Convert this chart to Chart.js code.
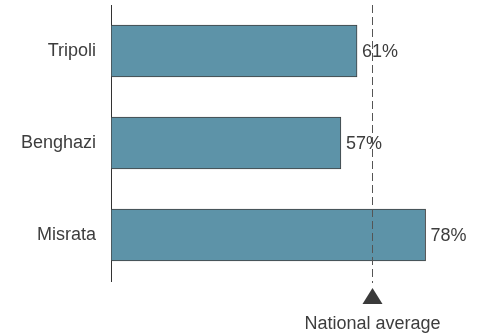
<!DOCTYPE html>
<html>
<head>
<meta charset="utf-8">
<script src="https://cdn.jsdelivr.net/npm/chart.js@4"></script>
<style>
  html, body { margin: 0; padding: 0; background: #fff; }
  #wrap { width: 483px; height: 335px; }
</style>
</head>
<body>
<div id="wrap"><canvas id="chart"></canvas></div>
<script>
const cities = ['Tripoli', 'Benghazi', 'Misrata'];
const shares = [61, 57, 78];
const nationalAverage = 64.6;
const averageLabel = 'National average';

const FONT = "'Liberation Sans', Arial, sans-serif";
const textColor = '#3d3d3d';

// values at the end of each bar
const valueLabels = {
  id: 'valueLabels',
  afterDatasetsDraw(chart) {
    const ctx = chart.ctx;
    const meta = chart.getDatasetMeta(0);
    ctx.save();
    ctx.font = '18px ' + FONT;
    ctx.fillStyle = textColor;
    ctx.textAlign = 'left';
    ctx.textBaseline = 'middle';
    meta.data.forEach((bar, i) => {
      ctx.fillText(shares[i] + '%', bar.x + 5, bar.y + 1);
    });
    ctx.restore();
  }
};

// dashed line + triangle marker for the national average
const averageMarker = {
  id: 'averageMarker',
  afterDatasetsDraw(chart) {
    const ctx = chart.ctx;
    const area = chart.chartArea;
    const x = Math.round(chart.scales.x.getPixelForValue(nationalAverage)) + 0.5;
    ctx.save();
    ctx.strokeStyle = '#555';
    ctx.lineWidth = 1;
    ctx.setLineDash([8, 4]);
    ctx.beginPath();
    ctx.moveTo(x, area.top);
    ctx.lineTo(x, area.bottom + 2);
    ctx.stroke();
    ctx.setLineDash([]);

    ctx.fillStyle = '#3a3a3a';
    ctx.beginPath();
    ctx.moveTo(x, area.bottom + 7);
    ctx.lineTo(x + 10, area.bottom + 23);
    ctx.lineTo(x - 10, area.bottom + 23);
    ctx.closePath();
    ctx.fill();

    ctx.font = '18px ' + FONT;
    ctx.fillStyle = textColor;
    ctx.textAlign = 'center';
    ctx.textBaseline = 'middle';
    ctx.fillText(averageLabel, x, area.bottom + 43);
    ctx.restore();
  }
};

new Chart(document.getElementById('chart'), {
  type: 'bar',
  data: {
    labels: cities,
    datasets: [{
      data: shares,
      backgroundColor: '#5d93a8',
      borderColor: '#404040',
      borderWidth: 1,
      borderSkipped: false,
      barThickness: 52
    }]
  },
  options: {
    indexAxis: 'y',
    responsive: true,
    maintainAspectRatio: false,
    animation: false,
    layout: { padding: { top: 5, right: 9, bottom: 54, left: 0 } },
    plugins: {
      legend: { display: false },
      tooltip: { enabled: false }
    },
    scales: {
      x: {
        display: false,
        min: 0,
        max: 90
      },
      y: {
        grid: { display: false, drawTicks: false },
        border: { display: true, color: '#333', width: 1 },
        ticks: {
          padding: 15,
          color: textColor,
          font: { family: FONT, size: 18 }
        },
        afterFit(scale) {
          scale.width = 111;
          scale.paddingTop = 0;
          scale.paddingBottom = 0;
        }
      }
    }
  },
  plugins: [valueLabels, averageMarker]
});
</script>
</body>
</html>
